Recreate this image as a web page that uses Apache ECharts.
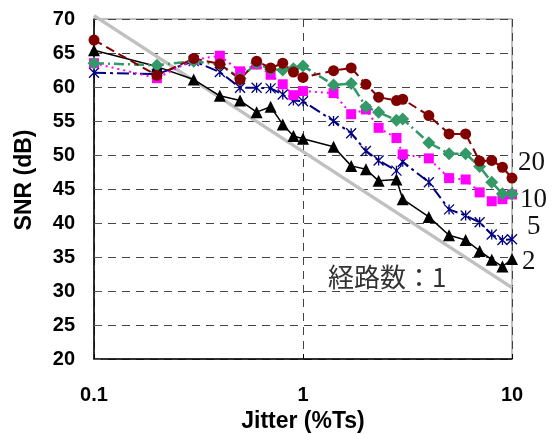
<!DOCTYPE html>
<html>
<head>
<meta charset="utf-8">
<script src="https://cdn.jsdelivr.net/npm/echarts/dist/echarts.min.js"></script>
<style>
  body { margin: 0; background: #fff; }
  #chart { width: 553px; height: 434px; }
</style>
</head>
<body>
<div id="chart"></div>
<script>
// jitter (%Ts) values shared by the measured curves
var jitter = [0.1, 0.2, 0.3, 0.4, 0.5, 0.6, 0.7, 0.8, 0.9, 1.0, 1.4, 1.7, 2.0, 2.3, 2.8, 3.0, 4, 5, 6, 7, 8, 9, 10];

// SNR (dB) per number of paths
var snr20 = [66.9, 61.7, 64.2, 63.4, 61.1, 63.8, 62.8, 63.5, 62.2, 61.4, 62.4, 62.8, 60.4, 58.5, 58.0, 58.2, 55.8, 53.1, 53.1, 49.1, 49.2, 48.2, 46.6];
var snr15 = [63.5, 63.2, 63.8, 63.3, 61.3, 63.5, 62.6, 62.5, 62.7, 63.1, 60.3, 60.5, 57.1, 56.3, 55.1, 55.3, 51.8, 50.2, 50.2, 48.3, 46.0, 44.3, 44.3];
var snr10 = [63.5, 61.3, 64.0, 64.6, 62.3, 63.3, 61.8, 60.4, 58.8, 59.4, 59.1, 56.0, 56.7, 54.0, 52.5, 50.1, 49.5, 46.6, 46.4, 44.5, 43.2, 43.5, 44.2];
var snr5  = [62.1, 61.9, 63.8, 62.2, 59.9, 59.9, 59.8, 58.9, 58.0, 57.9, 55.0, 53.2, 50.6, 49.2, 47.7, 49.0, 46.0, 42.0, 41.1, 40.1, 38.3, 37.5, 37.6];
var snr2  = [65.4, 63.0, 61.1, 58.7, 58.0, 56.3, 57.1, 54.5, 52.8, 52.4, 51.2, 48.4, 47.9, 46.2, 46.4, 43.5, 40.9, 38.2, 37.5, 35.9, 34.6, 33.6, 34.7];

// single path: straight reference line
var jitter1 = [0.1, 10];
var snr1 = [70.5, 30.5];

var xTicks = ['0.1', '1', '10'];

function pairs(xs, ys) {
    return xs.map(function(x, i) { return [x, ys[i]]; });
}

var chart = echarts.init(document.getElementById('chart'));

var option = {
    animation: false,
    backgroundColor: '#fff',
    grid: {
        left: 94,
        right: 41,
        top: 19,
        bottom: 75,
        outerBoundsMode: 'none',
        show: true,
        borderColor: '#808080',
        borderWidth: 1
    },
    xAxis: {
        type: 'log',
        logBase: 10,
        min: 0.1,
        max: 10,
        name: 'Jitter (%Ts)',
        nameLocation: 'middle',
        nameGap: 51,
        nameTextStyle: { fontFamily: 'Liberation Sans', fontWeight: 'bold', fontSize: 23, color: '#000' },
        axisLine: { lineStyle: { color: '#000', width: 1.5 } },
        axisTick: { inside: true, length: 5, lineStyle: { color: '#000' } },
        axisLabel: {
            margin: 26,
            fontFamily: 'Liberation Sans', fontWeight: 'bold', fontSize: 20, color: '#000',
            formatter: function(v) {
                var s = String(+v.toPrecision(6));
                return xTicks.indexOf(s) >= 0 ? s : '';
            }
        },
        splitLine: { show: true, lineStyle: { color: '#444', type: [8, 6], width: 1 } }
    },
    yAxis: {
        type: 'value',
        min: 20,
        max: 70,
        interval: 5,
        name: 'SNR (dB)',
        nameLocation: 'middle',
        nameGap: 58,
        nameTextStyle: { fontFamily: 'Liberation Sans', fontWeight: 'bold', fontSize: 23, color: '#000', padding: [0, 0, 0, 18] },
        axisLine: { show: true, lineStyle: { color: '#000', width: 1.5 } },
        axisTick: { show: true, inside: true, length: 7, lineStyle: { color: '#555' } },
        axisLabel: { margin: 19, fontFamily: 'Liberation Sans', fontWeight: 'bold', fontSize: 20, color: '#000' },
        splitLine: { show: true, lineStyle: { color: '#444', type: [8, 6], width: 1 } }
    },
    series: [
        {
            name: '1',
            type: 'line',
            clip: false,
            data: pairs(jitter1, snr1),
            symbol: 'none',
            lineStyle: { color: '#C0C0C0', width: 3.5 }
        },
        {
            name: '2',
            type: 'line',
            data: pairs(jitter, snr2),
            symbol: 'triangle',
            symbolSize: 12,
            itemStyle: { color: '#000' },
            lineStyle: { color: '#000', width: 1.5 }
        },
        {
            name: '5',
            type: 'line',
            data: pairs(jitter, snr5),
            symbol: 'path://M0,0L10,10M10,0L0,10M5,0L5,10',
            symbolSize: 10,
            itemStyle: { color: '#000080', borderColor: '#000080', borderWidth: 1.3 },
            lineStyle: { color: '#000080', width: 2, type: [12, 4, 3, 4] }
        },
        {
            name: '10',
            type: 'line',
            data: pairs(jitter, snr10),
            symbol: 'rect',
            symbolSize: 10,
            itemStyle: { color: '#FF00FF' },
            lineStyle: { color: '#FF00FF', width: 2, type: [2, 4] }
        },
        {
            name: '15',
            type: 'line',
            data: pairs(jitter, snr15),
            symbol: 'diamond',
            symbolSize: 13,
            itemStyle: { color: '#339966' },
            lineStyle: { color: '#339966', width: 2.5, type: [10, 4, 2, 4] }
        },
        {
            name: '20',
            type: 'line',
            data: pairs(jitter, snr20),
            symbol: 'circle',
            symbolSize: 11,
            itemStyle: { color: '#800000' },
            lineStyle: { color: '#800000', width: 2, type: [9, 5] }
        }
    ],
    graphic: [
        { type: 'rect', left: 320, top: 250, shape: { width: 153, height: 52 }, style: { fill: '#fff' } },
        { type: 'text', x: 328, y: 277, style: { text: '経路数：1', font: '26px "Noto Sans CJK JP"', fill: '#333', textVerticalAlign: 'middle' } },
        { type: 'text', x: 518, y: 163, style: { text: '20', font: '27px "Liberation Serif"', fill: '#111', textVerticalAlign: 'middle' } },
        { type: 'text', x: 520, y: 200, style: { text: '10', font: '27px "Liberation Serif"', fill: '#111', textVerticalAlign: 'middle' } },
        { type: 'text', x: 527, y: 227, style: { text: '5', font: '27px "Liberation Serif"', fill: '#111', textVerticalAlign: 'middle' } },
        { type: 'text', x: 522, y: 262, style: { text: '2', font: '27px "Liberation Serif"', fill: '#111', textVerticalAlign: 'middle' } }
    ]
};

chart.setOption(option);
</script>
</body>
</html>
